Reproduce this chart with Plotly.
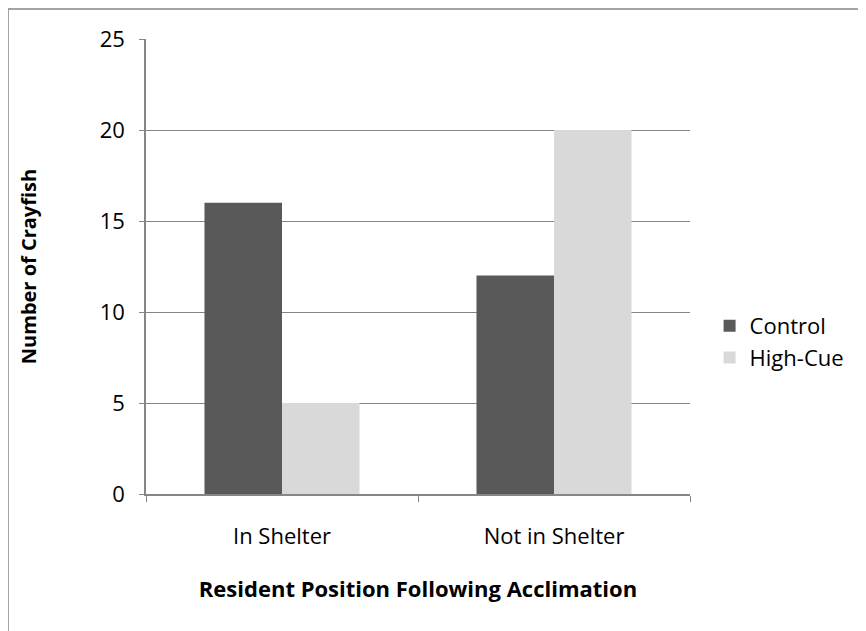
import plotly.graph_objects as go

categories = ["In Shelter", "Not in Shelter"]
control = [16, 12]
high_cue = [5, 20]
y_ticks = [0, 5, 10, 15, 20, 25]

FONT = "Open Sans"
GRID = "#868686"

fig = go.Figure()
fig.add_trace(go.Bar(name="Control", x=categories, y=control, marker=dict(color="#595959", line=dict(width=0))))
fig.add_trace(go.Bar(name="High-Cue", x=categories, y=high_cue, marker=dict(color="#d9d9d9", line=dict(width=0))))

fig.update_layout(
    width=866, height=631,
    margin=dict(l=138, r=184, t=31, b=145, autoexpand=False),
    paper_bgcolor="white", plot_bgcolor="white",
    barmode="group", bargap=0.43, bargroupgap=0,
    font=dict(family=FONT, size=22, color="black"),
    showlegend=True,
    legend=dict(x=1.036, y=0.334, xanchor="left", yanchor="middle",
                font=dict(family=FONT, size=22), itemwidth=30,
                bgcolor="rgba(0,0,0,0)"),
    xaxis=dict(type="category", tickson="boundaries", ticks="outside", ticklen=6,
               tickcolor=GRID, showline=True, linecolor=GRID, linewidth=1.5,
               showgrid=False, tickfont=dict(size=22), ticklabelstandoff=22,
               title=dict(text="<b>Resident Position Following Acclimation</b>",
                          font=dict(size=22), standoff=32)),
    yaxis=dict(range=[0, 25], tickvals=y_ticks, ticks="outside", ticklen=5,
               tickcolor=GRID, showline=True, linecolor=GRID, linewidth=1.5,
               showgrid=True, gridcolor=GRID, gridwidth=1, zeroline=False,
               tickfont=dict(size=22), ticklabelstandoff=10,
               title=dict(text="<b>Number of Crayfish</b>", font=dict(size=20), standoff=58)),
)

# outer chart frame (left and top edges visible)
fig.add_shape(type="rect", xref="paper", yref="paper",
              x0=(8 - 146) / 544, x1=(880 - 146) / 544,
              y0=(494 - 640) / 455, y1=(494 - 9) / 455,
              line=dict(color="#868686", width=1.5), layer="below")

fig.write_html("out.html")
